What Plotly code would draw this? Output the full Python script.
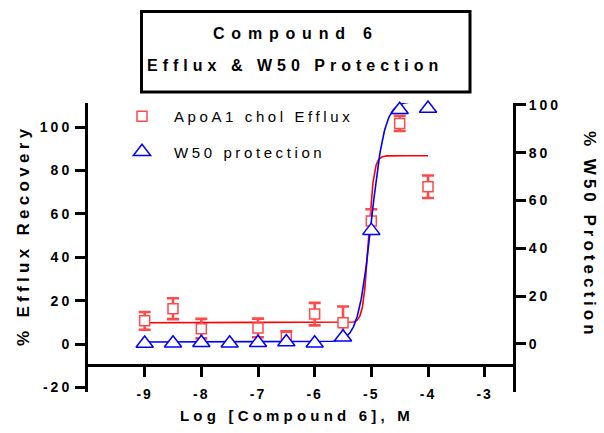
import numpy as np
import plotly.graph_objects as go

# ---- data ----
efflux_x = [-9, -8.5, -8, -7, -6.5, -6, -5.5, -5, -4.5, -4]
efflux_y = [10.7, 16.3, 7.1, 7.4, 3.1, 13.8, 9.8, 56.7, 101.7, 72.5]
efflux_err = [4.1, 4.8, 4.5, 4.3, 2.8, 5.2, 7.5, 5.4, 3.5, 5.2]

w50_x = [-9, -8.5, -8, -7.5, -7, -6.5, -6, -5.5, -5, -4.5, -4]
w50_y = [0.2, 0.3, 0.5, 0.3, 0.5, 0.8, 0.3, 2.8, 47.4, 98.0, 98.5]

# four-parameter logistic fits (bottom, top, logEC50, hill)
efflux_fit = [9.8, 86.8, -5.05, 9.0]
w50_fit = [0.8, 101.5, -5.0, 3.7]
fit_range = [-9, -4]

x_ticks = [-9, -8, -7, -6, -5, -4, -3]
left_ticks = [-20, 0, 20, 40, 60, 80, 100]
right_ticks = [0, 20, 40, 60, 80, 100]

FONT = "Liberation Sans, Arial, sans-serif"


def sp(text, ls):
    return '<span style="letter-spacing:%.1fpx">%s</span>' % (ls, text)


def logistic(p, x):
    b, t, ec, h = p
    return b + (t - b) / (1 + 10 ** (h * (ec - x)))


xc = np.linspace(fit_range[0], fit_range[1], 801)

fig = go.Figure()

fig.add_trace(go.Scatter(
    x=xc, y=logistic(efflux_fit, xc), mode="lines",
    line=dict(color="#FF0000", width=1.6), showlegend=False, hoverinfo="skip",
    yaxis="y"))
fig.add_trace(go.Scatter(
    x=efflux_x, y=efflux_y, mode="markers",
    name=sp("ApoA1 chol Efflux", 3.6), legendgroup="a",
    marker=dict(symbol="square", size=10, color="white",
                line=dict(color="#FF4A4A", width=1.5)),
    error_y=dict(type="data", array=efflux_err, color="#FF4A4A",
                 thickness=2.6, width=6),
    cliponaxis=False, yaxis="y"))

fig.add_trace(go.Scatter(
    x=xc, y=logistic(w50_fit, xc), mode="lines",
    line=dict(color="#0000FF", width=1.6), showlegend=False, hoverinfo="skip",
    yaxis="y2"))
fig.add_trace(go.Scatter(
    x=w50_x, y=w50_y, mode="markers",
    name=sp("W50 protection", 3.6), legendgroup="b",
    marker=dict(symbol="triangle-up", size=15, color="white",
                line=dict(color="#0000FF", width=1.5)),
    cliponaxis=False, yaxis="y2"))

axis_common = dict(showgrid=False, zeroline=False, showline=True,
                   linecolor="black", linewidth=3, ticks="outside",
                   ticklen=10, tickwidth=3, tickcolor="black",
                   tickfont=dict(family=FONT, size=14, color="black",
                                 weight="bold"))

fig.update_layout(
    width=604, height=433,
    margin=dict(l=88, r=91, t=103, b=41),
    paper_bgcolor="white", plot_bgcolor="white",
    showlegend=True,
    legend=dict(x=(110 - 88) / 425, y=(392 - 100) / 289,
                xanchor="left", yanchor="top",
                bgcolor="rgba(0,0,0,0)", itemwidth=54,
                traceorder="grouped", tracegroupgap=13,
                font=dict(family=FONT, size=15, color="black")),
    xaxis=dict(range=[-10, -2.5], tickvals=x_ticks,
               ticktext=[sp(str(v), 2) for v in x_ticks],
               ticklabelstandoff=5,
               anchor="free", position=27 / 289, **axis_common),
    yaxis=dict(range=[-22.1, 111.1], tickvals=left_ticks,
               ticktext=[sp(str(v), 3) for v in left_ticks],
               anchor="x", **axis_common),
    yaxis2=dict(range=[-20.1, 100.8], tickvals=right_ticks,
                ticktext=[sp(str(v), 3) for v in right_ticks],
                overlaying="y", side="right", anchor="x", **axis_common),
    shapes=[dict(type="rect", xref="paper", yref="paper",
                 x0=(141.5 - 88) / 425, x1=(470 - 88) / 425,
                 y0=(392 - 92) / 289, y1=(392 - 11.5) / 289,
                 line=dict(color="black", width=3))],
    annotations=[
        dict(text=sp("Compound 6", 6.8), x=(296 - 88) / 425,
             y=(392 - 33) / 289, xref="paper", yref="paper",
             showarrow=False, xanchor="center", yanchor="middle",
             font=dict(family=FONT, size=16, color="black", weight="bold")),
        dict(text=sp("Efflux &amp; W50 Protection", 5.0), x=(295 - 88) / 425,
             y=(392 - 65) / 289, xref="paper", yref="paper",
             showarrow=False, xanchor="center", yanchor="middle",
             font=dict(family=FONT, size=16, color="black", weight="bold")),
        dict(text=sp("% Efflux Recovery", 4.3), x=(24 - 88) / 425,
             y=(392 - 236) / 289, xref="paper", yref="paper",
             showarrow=False, textangle=-90, xanchor="center",
             yanchor="middle",
             font=dict(family=FONT, size=17, color="black", weight="bold")),
        dict(text=sp("% W50 Protection", 4.0), x=(590 - 88) / 425,
             y=(392 - 235) / 289, xref="paper", yref="paper",
             showarrow=False, textangle=90, xanchor="center",
             yanchor="middle",
             font=dict(family=FONT, size=17, color="black", weight="bold")),
        dict(text=sp("Log [Compound 6], M", 4.2), x=(297 - 88) / 425,
             y=(392 - 415) / 289, xref="paper", yref="paper",
             showarrow=False, xanchor="center", yanchor="middle",
             font=dict(family=FONT, size=15, color="black", weight="bold")),
    ],
)

fig.write_html("out.html",
               config={"displayModeBar": False},
               post_script="document.body.style.margin='0px';"
                           "document.body.style.overflow='hidden';")
